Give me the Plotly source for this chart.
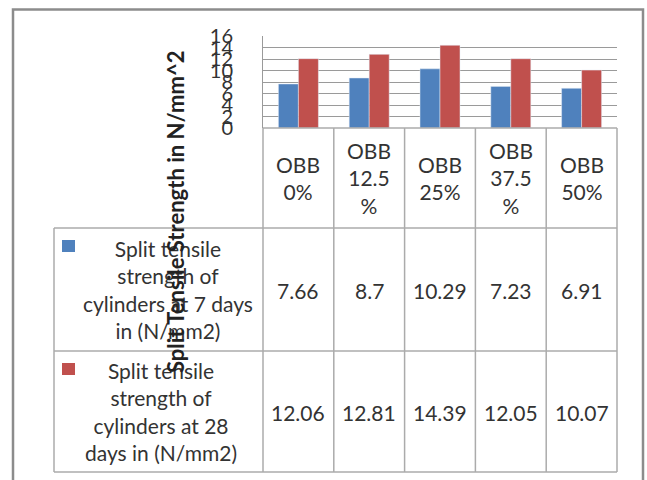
import plotly.graph_objects as go

categories = ["OBB<br>0%", "OBB<br>12.5<br>%", "OBB<br>25%", "OBB<br>37.5<br>%", "OBB<br>50%"]
series_names = ["Split tensile<br>strength of<br>cylinders at 7 days<br>in (N/mm2)",
                "Split tensile<br>strength of<br>cylinders at 28<br>days in (N/mm2)"]
days7 = [7.66, 8.7, 10.29, 7.23, 6.91]
days28 = [12.06, 12.81, 14.39, 12.05, 10.07]
value_labels7 = ["7.66", "8.7", "10.29", "7.23", "6.91"]
value_labels28 = ["12.06", "12.81", "14.39", "12.05", "10.07"]
y_ticks = [0, 2, 4, 6, 8, 10, 12, 14, 16]

W, H = 647, 480
L, R, T, B = 263, 617, 36, 128
PW, PH = R - L, B - T

def px(X):
    return (X - L) / PW

def py(Y):
    return (B - Y) / PH

BLUE = "#4F81BD"
RED = "#C0504D"
GRID = "#9a9a9a"
TBL = "#ababab"
TXT = "#333333"
FONT = "Lato"

n = len(categories)
xs = list(range(n))

fig = go.Figure()
fig.add_trace(go.Bar(x=xs, y=days7, marker_color=BLUE, name="7 days"))
fig.add_trace(go.Bar(x=xs, y=days28, marker_color=RED, name="28 days"))

fig.update_layout(
    width=W, height=H,
    margin=dict(l=L, r=W - R, t=T, b=H - B, pad=0),
    paper_bgcolor="white", plot_bgcolor="white",
    showlegend=False,
    barmode="group", bargap=0.435, bargroupgap=0,
    font=dict(family=FONT, color=TXT),
    xaxis=dict(range=[-0.5, n - 0.5], showticklabels=False, showgrid=False,
               zeroline=False, showline=False, ticks=""),
    yaxis=dict(range=[0, 16], tickvals=y_ticks, ticktext=[str(v) for v in y_ticks],
               showgrid=True, gridcolor=GRID, gridwidth=1, zeroline=False,
               showline=True, linecolor=GRID, linewidth=1, ticks="",
               ticklabelstandoff=25,
               tickfont=dict(family=FONT, size=20, color=TXT)),
)

shapes = []
# outer frame
shapes.append(dict(type="rect", xref="paper", yref="paper",
                   x0=px(13), x1=px(643), y0=py(490), y1=py(9.5),
                   line=dict(color="#8c8c8c", width=2.5), fillcolor="rgba(0,0,0,0)", layer="below"))

# table vertical lines at category boundaries
for i in range(n + 1):
    xp = i / n
    shapes.append(dict(type="line", xref="paper", yref="paper", x0=xp, x1=xp,
                       y0=py(128), y1=py(472), line=dict(color=TBL, width=1.5)))
# legend column left edge
shapes.append(dict(type="line", xref="paper", yref="paper", x0=px(54), x1=px(54),
                   y0=py(228), y1=py(472), line=dict(color=TBL, width=1.5)))
# horizontal lines
shapes.append(dict(type="line", xref="paper", yref="paper", x0=0, x1=1,
                   y0=py(128), y1=py(128), line=dict(color=TBL, width=1.5)))
for Y in (228, 351, 472):
    shapes.append(dict(type="line", xref="paper", yref="paper", x0=px(54), x1=1,
                       y0=py(Y), y1=py(Y), line=dict(color=TBL, width=1.5)))
# legend keys
for (Y0, col) in ((240, BLUE), (363, RED)):
    shapes.append(dict(type="rect", xref="paper", yref="paper", x0=px(62), x1=px(75),
                       y0=py(Y0 + 12), y1=py(Y0), line=dict(width=0), fillcolor=col))

ann = []
for i in range(n):
    ann.append(dict(x=xs[i], xref="x", y=py(178), yref="paper", text=categories[i],
                    showarrow=False, font=dict(family=FONT, size=21, color=TXT),
                    xanchor="center", yanchor="middle", align="center"))
    ann.append(dict(x=xs[i], xref="x", y=py(290), yref="paper", text=value_labels7[i],
                    showarrow=False, font=dict(family=FONT, size=21, color=TXT),
                    xanchor="center", yanchor="middle"))
    ann.append(dict(x=xs[i], xref="x", y=py(412), yref="paper", text=value_labels28[i],
                    showarrow=False, font=dict(family=FONT, size=21, color=TXT),
                    xanchor="center", yanchor="middle"))
ann.append(dict(x=px(168), xref="paper", y=py(289), yref="paper", text=series_names[0],
                showarrow=False, font=dict(family=FONT, size=21, color=TXT),
                xanchor="center", yanchor="middle", align="center"))
ann.append(dict(x=px(161), xref="paper", y=py(411), yref="paper", text=series_names[1],
                showarrow=False, font=dict(family=FONT, size=21, color=TXT),
                xanchor="center", yanchor="middle", align="center"))
# axis title
ann.append(dict(x=px(175), xref="paper", y=py(212), yref="paper",
                text="<b>Split Tensile Strength in N/mm^2</b>", textangle=-90,
                showarrow=False, font=dict(family=FONT, size=22, color="#222222"),
                xanchor="center", yanchor="middle"))

fig.update_layout(shapes=shapes, annotations=ann)
fig.write_html("out.html", config={"displayModeBar": False},
               post_script="document.body.style.margin='0px';document.body.style.overflow='hidden';")
